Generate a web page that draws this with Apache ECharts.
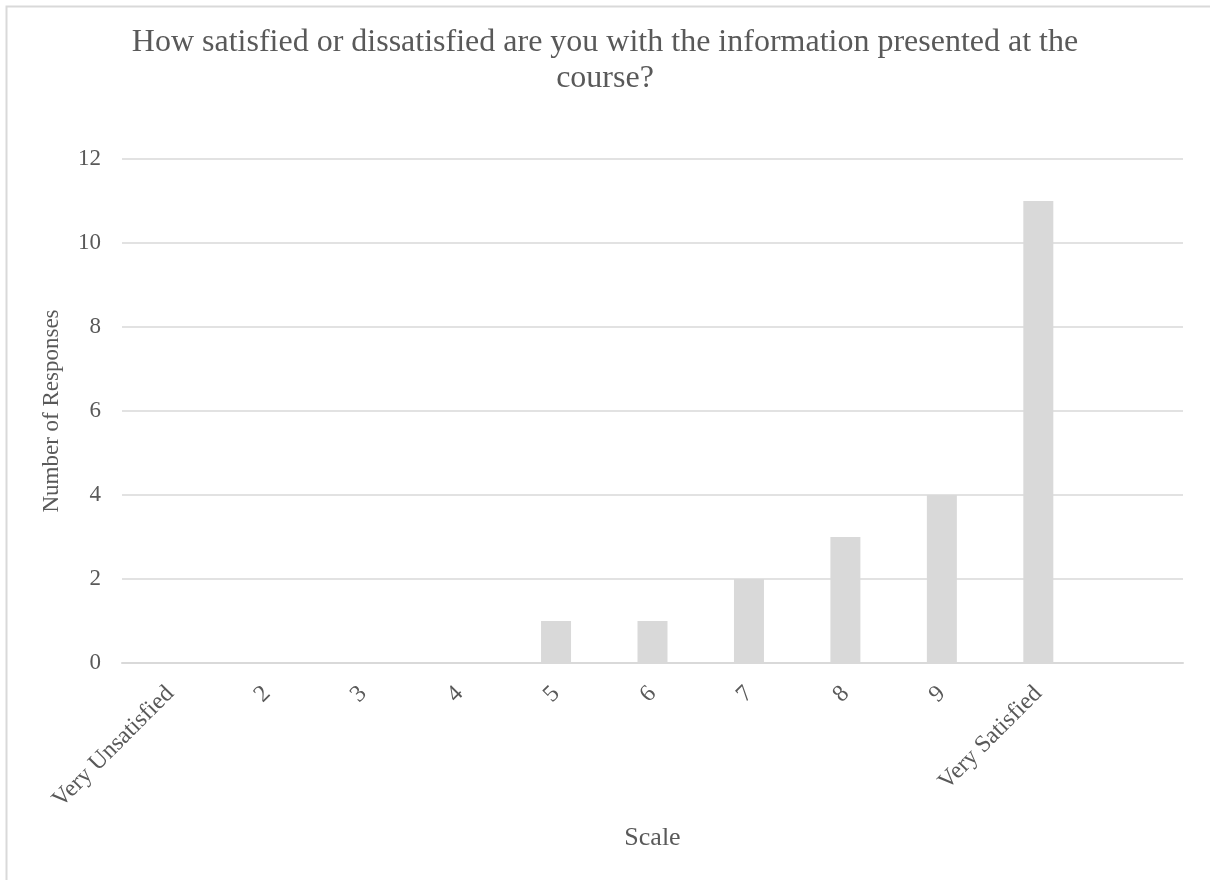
<!DOCTYPE html>
<html>
<head>
<meta charset="utf-8">
<script src="https://cdn.jsdelivr.net/npm/echarts@6/dist/echarts.min.js"></script>
<style>
  html, body { margin: 0; padding: 0; background: #ffffff; }
  #chart { width: 1210px; height: 880px; }
</style>
</head>
<body>
<div id="chart"></div>
<script>
// Survey responses per satisfaction score
const categories = ['Very Unsatisfied', '2', '3', '4', '5', '6', '7', '8', '9', 'Very Satisfied', ''];
const responses = [0, 0, 0, 0, 1, 1, 2, 3, 4, 11, null];
const titleText = 'How satisfied or dissatisfied are you with the information presented at the\ncourse?';
const yAxisTitle = 'Number of Responses';
const xAxisTitle = 'Scale';

const serif = '"Liberation Serif", "Times New Roman", serif';
const textGrey = '#595959';
const lineGrey = '#d9d9d9';

const chart = echarts.init(document.getElementById('chart'), null, { renderer: 'canvas' });
chart.setOption({
  backgroundColor: '#ffffff',
  animation: false,
  graphic: [{
    type: 'rect',
    left: 4, top: 4,
    shape: { width: 1300, height: 1000 },
    style: { fill: 'none', stroke: lineGrey, lineWidth: 2 },
    silent: true
  }],
  title: {
    text: titleText,
    left: 'center',
    top: 20,
    textStyle: {
      fontFamily: serif,
      fontSize: 32,
      fontWeight: 'normal',
      color: textGrey,
      lineHeight: 36,
      align: 'center'
    }
  },
  grid: { left: 122, right: 27, top: 159, bottom: 217, containLabel: false },
  xAxis: {
    type: 'category',
    data: categories,
    name: xAxisTitle,
    nameLocation: 'middle',
    nameGap: 162,
    nameTextStyle: { fontFamily: serif, fontSize: 26, color: textGrey },
    axisLine: { lineStyle: { color: lineGrey, width: 2 } },
    axisTick: { show: false },
    axisLabel: {
      rotate: 45,
      interval: 0,
      margin: 27,
      fontFamily: serif,
      fontSize: 24,
      color: textGrey
    }
  },
  yAxis: {
    type: 'value',
    min: 0,
    max: 12,
    interval: 2,
    name: yAxisTitle,
    nameLocation: 'middle',
    nameGap: 59,
    nameTextStyle: { fontFamily: serif, fontSize: 23, color: textGrey },
    axisLine: { show: false },
    axisTick: { show: false },
    axisLabel: { fontFamily: serif, fontSize: 23, color: textGrey, margin: 21 },
    splitLine: { lineStyle: { color: lineGrey, width: 1.5 } }
  },
  series: [{
    type: 'bar',
    data: responses,
    barWidth: 30,
    itemStyle: { color: '#d9d9d9' }
  }]
});
</script>
</body>
</html>
